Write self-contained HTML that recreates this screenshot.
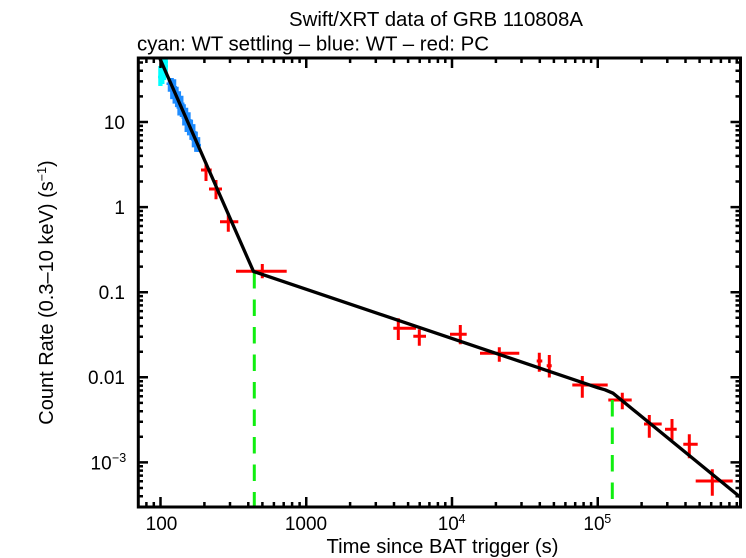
<!DOCTYPE html>
<html>
<head>
<meta charset="utf-8">
<style>
  html, body { margin: 0; padding: 0; background: #ffffff; }
  svg { display: block; }
  text { font-family: "Liberation Sans", Arial, Helvetica, sans-serif; fill: #000; }
</style>
</head>
<body>
<svg width="746" height="558" viewBox="0 0 746 558" xmlns="http://www.w3.org/2000/svg">
  <rect x="0" y="0" width="746" height="558" fill="#ffffff"/>
  <defs>
    <clipPath id="plot">
      <rect x="138" y="58" width="602.5" height="449"/>
    </clipPath>
  </defs>

  <!-- Titles -->
  <text x="436" y="26" font-size="20.3" text-anchor="middle" textLength="294" lengthAdjust="spacingAndGlyphs">Swift/XRT data of GRB 110808A</text>
  <text x="137" y="50.5" font-size="20.3" textLength="352" lengthAdjust="spacingAndGlyphs">cyan: WT settling – blue: WT – red: PC</text>

  <g clip-path="url(#plot)">
    <!-- cyan WT settling -->
    <g stroke="#00ffff" stroke-width="2.5" fill="none">
      <path d="M159.5 66V86 M161.3 62V86 M163.2 58V84 M165 57V80 M166.6 57V74 M158 77h4 M160 75h4 M162 70h4 M164 66h4 M165 62h3"/>
    </g>
    <!-- blue WT -->
    <g stroke="#1e8cff" stroke-width="2.5" fill="none">
      <path d="
        M169 78V91.7 M170.2 78V85.4 M171.4 83.1V99.1 M172.6 78V92.9 M173.8 87.6V103.6
        M175 79.3V95.3 M176.2 91.1V107.1 M177.4 86.8V102.8 M178.6 99.5V115.5 M179.8 91.3V107.3
        M181 101V117 M182.2 95.8V111.8 M183.4 109.5V125.5 M184.6 104.2V120.2 M185.8 116V132
        M187 107.7V123.7 M188.2 119.4V135.4 M189.4 112.2V128.2 M190.6 123.9V139.9 M191.8 119.6V135.6
        M193 131.4V147.4 M194.2 124.1V140.1 M195.4 135.9V151.9 M196.6 131.6V147.6 M197.8 139.3V152 M199 137.1V152
        M166.5 83.7h5 M171 84.9h4 M171.5 95.6h4.5 M173 87.3h4 M174 99.1h4.5 M175.5 94.8h4
        M176.5 107.5h4.5 M178 99.3h4 M179 109h4.5 M180.5 103.8h4 M181.5 117.5h4.5 M182.5 112.2h4
        M183.5 124h4.5 M185 115.7h4 M186 127.4h4.5 M187.5 120.2h4 M188.5 131.9h4.5 M190 127.6h4
        M191 139.4h4.5 M192.5 132.1h4 M193.5 143.9h4.5 M194.5 139.6h4 M196 147.3h4 M197 145.1h4"/>
    </g>

    <!-- red PC data -->
    <g stroke="#ff0000" stroke-width="3" fill="none">
      <path d="M201 170H211.7 M206 162.3V181"/>
      <path d="M209 189H222 M216 180V199.3"/>
      <path d="M220 221.7H238.3 M228.3 213.3V231.7"/>
      <path d="M236 271.3H286.7 M262.3 264V278.3"/>
      <path d="M393.3 328.3H416 M398.3 318.3V340"/>
      <path d="M413.3 336.3H426 M419.3 329.3V345.7"/>
      <path d="M450 334.3H466.7 M460.3 325V344.3"/>
      <path d="M480 353.3H519.3 M499.3 347.3V361.7"/>
      <path d="M536.7 361H542.3 M539.3 352.7V371.7"/>
      <path d="M546.7 365.7H551.7 M549.3 355V377.5"/>
      <path d="M572.3 385H607.7 M582.3 376V397.7"/>
      <path d="M608.3 400H631.7 M622.3 392.7V409.3"/>
      <path d="M644 424H661.7 M649.3 415V437.7"/>
      <path d="M665 429.3H676.7 M672 419V440"/>
      <path d="M683.3 444.3H697.7 M689.3 434.3V458.3"/>
      <path d="M695.7 481H732.7 M712.3 469.3V495.7"/>
    </g>

    <!-- green dashed break lines -->
    <g stroke="#10ee10" stroke-width="3" fill="none" stroke-dasharray="16.5 11">
      <path d="M254.3 272V507"/>
      <path d="M612.3 400V507"/>
    </g>

    <!-- model -->
    <polyline points="157,52 253.5,271.5 598,387.8 605,389.8 613,393.2 740.5,497.4"
      fill="none" stroke="#000" stroke-width="3.3" stroke-linejoin="round"/>
  </g>

  <!-- Axes frame -->
  <rect x="138.3" y="58" width="602.2" height="449" fill="none" stroke="#000" stroke-width="3"/>

  <!-- X ticks -->
  <g stroke="#000" stroke-width="2.5" fill="none">
    <path d="M160.5 507v-10 M306.25 507v-10 M452 507v-10 M597.75 507v-10
             M160.5 58v10 M306.25 58v10 M452 58v10 M597.75 58v10"/>
    <path d="M146.4 507v-5 M153.8 507v-5
      M204.4 507v-5 M230 507v-5 M248.3 507v-5 M262.4 507v-5 M273.9 507v-5 M283.7 507v-5 M292.1 507v-5 M299.6 507v-5
      M350.1 507v-5 M375.8 507v-5 M394 507v-5 M408.1 507v-5 M419.7 507v-5 M429.4 507v-5 M437.9 507v-5 M445.3 507v-5
      M495.9 507v-5 M521.5 507v-5 M539.8 507v-5 M553.9 507v-5 M565.4 507v-5 M575.2 507v-5 M583.6 507v-5 M591.1 507v-5
      M641.6 507v-5 M667.3 507v-5 M685.5 507v-5 M699.6 507v-5 M711.2 507v-5 M720.9 507v-5 M729.4 507v-5 M736.8 507v-5"/>
    <path d="M146.4 58v5 M153.8 58v5
      M204.4 58v5 M230 58v5 M248.3 58v5 M262.4 58v5 M273.9 58v5 M283.7 58v5 M292.1 58v5 M299.6 58v5
      M350.1 58v5 M375.8 58v5 M394 58v5 M408.1 58v5 M419.7 58v5 M429.4 58v5 M437.9 58v5 M445.3 58v5
      M495.9 58v5 M521.5 58v5 M539.8 58v5 M553.9 58v5 M565.4 58v5 M575.2 58v5 M583.6 58v5 M591.1 58v5
      M641.6 58v5 M667.3 58v5 M685.5 58v5 M699.6 58v5 M711.2 58v5 M720.9 58v5 M729.4 58v5 M736.8 58v5"/>
  </g>

  <!-- Y ticks -->
  <g stroke="#000" stroke-width="2.5" fill="none">
    <path d="M138 122h10 M138 207.1h10 M138 292.2h10 M138 377.3h10 M138 462.4h10
             M740.5 122h-10 M740.5 207.1h-10 M740.5 292.2h-10 M740.5 377.3h-10 M740.5 462.4h-10"/>
    <path d="M138 62.5h5 M138 70.8h5 M138 81.4h5 M138 96.4h5
      M138 125.9h5 M138 130.3h5 M138 135.2h5 M138 140.9h5 M138 147.6h5 M138 155.9h5 M138 166.5h5 M138 181.5h5
      M138 211h5 M138 215.4h5 M138 220.3h5 M138 226h5 M138 232.7h5 M138 241h5 M138 251.6h5 M138 266.6h5
      M138 296.1h5 M138 300.5h5 M138 305.4h5 M138 311.1h5 M138 317.8h5 M138 326.1h5 M138 336.7h5 M138 351.7h5
      M138 381.2h5 M138 385.6h5 M138 390.5h5 M138 396.2h5 M138 402.9h5 M138 411.2h5 M138 421.8h5 M138 436.8h5
      M138 466.3h5 M138 470.6h5 M138 475.6h5 M138 481.3h5 M138 488h5 M138 496.3h5"/>
    <path d="M740.5 62.5h-5 M740.5 70.8h-5 M740.5 81.4h-5 M740.5 96.4h-5
      M740.5 125.9h-5 M740.5 130.3h-5 M740.5 135.2h-5 M740.5 140.9h-5 M740.5 147.6h-5 M740.5 155.9h-5 M740.5 166.5h-5 M740.5 181.5h-5
      M740.5 211h-5 M740.5 215.4h-5 M740.5 220.3h-5 M740.5 226h-5 M740.5 232.7h-5 M740.5 241h-5 M740.5 251.6h-5 M740.5 266.6h-5
      M740.5 296.1h-5 M740.5 300.5h-5 M740.5 305.4h-5 M740.5 311.1h-5 M740.5 317.8h-5 M740.5 326.1h-5 M740.5 336.7h-5 M740.5 351.7h-5
      M740.5 381.2h-5 M740.5 385.6h-5 M740.5 390.5h-5 M740.5 396.2h-5 M740.5 402.9h-5 M740.5 411.2h-5 M740.5 421.8h-5 M740.5 436.8h-5
      M740.5 466.3h-5 M740.5 470.6h-5 M740.5 475.6h-5 M740.5 481.3h-5 M740.5 488h-5 M740.5 496.3h-5"/>
  </g>

  <!-- Y tick labels -->
  <g font-size="19">
    <text x="125" y="129" text-anchor="end">10</text>
    <text x="125" y="214" text-anchor="end">1</text>
    <text x="125" y="299" text-anchor="end">0.1</text>
    <text x="125" y="384" text-anchor="end">0.01</text>
    <text x="111.7" y="469.5" text-anchor="end">10</text>
  </g>
  <text x="112" y="462" font-size="12.5">−3</text>

  <!-- X tick labels -->
  <g font-size="19" text-anchor="middle">
    <text x="161.5" y="530">100</text>
    <text x="306" y="530">1000</text>
    <text x="448.3" y="530">10</text>
    <text x="594" y="530">10</text>
  </g>
  <text x="458.5" y="523" font-size="12.5">4</text>
  <text x="604.2" y="523" font-size="12.5">5</text>

  <!-- Axis labels -->
  <text x="442.5" y="553" font-size="20" text-anchor="middle" textLength="232" lengthAdjust="spacingAndGlyphs">Time since BAT trigger (s)</text>
  <text transform="translate(53,292.5) rotate(-90)" font-size="20" text-anchor="middle">Count Rate (0.3–10 keV) (s<tspan font-size="12.5" dy="-7">−1</tspan><tspan dy="7">)</tspan></text>
</svg>
</body>
</html>
